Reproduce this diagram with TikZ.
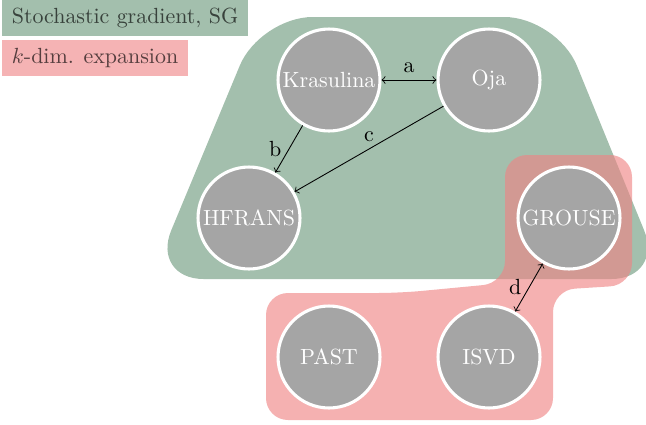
\documentclass[tikz,border=0pt]{standalone}
\usepackage{xcolor}
\usepackage{tikz}
\usepackage{amsmath}

\definecolor{sggreen}{RGB}{163,191,173}
\definecolor{kdimred}{RGB}{239,132,132}
\definecolor{kdimlegend}{RGB}{245,179,180}
\definecolor{algogray}{RGB}{165,165,165}

\begin{document}
\begin{tikzpicture}[x=0.456pt,y=-0.456pt,
  algo/.style={circle,fill=algogray,draw=white,line width=1.4pt,minimum size=46.5pt,inner sep=0pt,text=white},
  legend/.style={anchor=north west,inner xsep=4.3pt,minimum height=16.4pt,text opacity=0.65}]
\useasboundingbox (0,0) rectangle (646,424);

% Legend
\node[legend,fill=sggreen] (legsg) at (2,0) {Stochastic gradient, SG};
\node[legend,fill=kdimlegend] (legkdim) at (2,40) {$k$-dim. expansion};

% Stochastic gradient region
\fill[sggreen,rounded corners=24pt] (151,279) -- (260,17) -- (557,17) -- (664,279) -- cycle;

% k-dim. expansion region
\fill[kdimred,fill opacity=0.63,rounded corners=10pt] (266,293) -- (400,293) -- (505,283) -- (505,155)
  -- (632,155) -- (632,285) -- (553,290) -- (553,420) -- (266,420) -- cycle;

% Algorithms
\node[algo] (kras) at (329,80) {Krasulina};
\node[algo] (oja) at (489,80) {Oja};
\node[algo] (hfrans) at (249,218) {HFRANS};
\node[algo] (grouse) at (569,218) {GROUSE};
\node[algo] (past) at (329,357) {PAST};
\node[algo] (isvd) at (489,357) {ISVD};

% Relations
\draw[<->] (kras) -- node[above] {a} (oja);
\draw[->] (kras) -- node[left] {b} (hfrans);
\draw[->] (oja) -- node[pos=0.5,above] {c} (hfrans);
\draw[<->] (isvd) -- node[left] {d} (grouse);
\end{tikzpicture}
\end{document}
